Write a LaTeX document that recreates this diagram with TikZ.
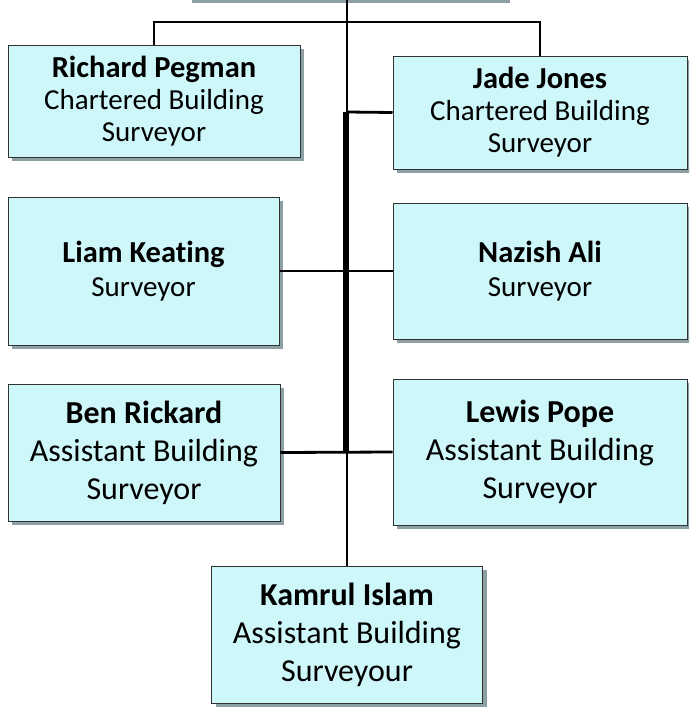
\documentclass[tikz,border=0pt]{standalone}
\usepackage{fontspec}
\setmainfont{Carlito}[Ligatures=NoCommon]
\usetikzlibrary{shadows}
\definecolor{boxfill}{RGB}{206,247,250}
\definecolor{boxshadow}{RGB}{141,160,166}
\definecolor{boxline}{RGB}{50,50,50}
\newcommand{\nmA}[1]{{\fontsize{30.5}{32}\selectfont\bfseries #1}}
\tikzset{
  person/.style={draw=boxline, line width=1pt, fill=boxfill, rectangle, inner sep=0pt, align=center,
    drop shadow={shadow xshift=4pt, shadow yshift=-4pt, fill=boxshadow, opacity=1}},
  fsA/.style={font=\fontsize{29}{32}\selectfont},
  fsB/.style={font=\fontsize{29}{34}\selectfont},
  fsC/.style={font=\fontsize{32}{38}\selectfont},
  link/.style={line width=2.8pt, draw=black},
  trunk/.style={line width=5.2pt, draw=black}
}
\begin{document}
\begin{tikzpicture}[x=1pt,y=-1pt]
\useasboundingbox (0,0) rectangle (689,707);
\begin{scope}
\clip (0,0) rectangle (689,707);
\node[person, minimum width=318pt, minimum height=59pt] (top) at (347,-30.5) {};
\node[person, fsA, minimum width=292pt, minimum height=112pt] (rp) at (154,101) {\nmA{Richard Pegman}\\Chartered Building\\Surveyor};
\node[person, fsA, minimum width=294pt, minimum height=113pt] (jj) at (540,112.5) {\nmA{Jade Jones}\\Chartered Building\\Surveyor};
\node[person, fsB, minimum width=271pt, minimum height=148pt] (lk) at (143.5,271) {\nmA{Liam Keating}\\Surveyor};
\node[person, fsB, minimum width=294pt, minimum height=136pt] (na) at (540,271) {\nmA{Nazish Ali}\\Surveyor};
\node[person, fsC, minimum width=272pt, minimum height=137pt] (br) at (144,452.5) {\textbf{Ben Rickard}\\Assistant Building\\Surveyor};
\node[person, fsC, minimum width=294pt, minimum height=146pt] (lp) at (540,452) {\textbf{Lewis Pope}\\Assistant Building\\Surveyor};
\node[person, fsC, minimum width=271pt, minimum height=137pt] (ki) at (347,634.5) {\textbf{Kamrul Islam}\\Assistant Building\\Surveyour};
\end{scope}
\coordinate (hb) at (347,22);
\coordinate (j1) at (347,112);
\coordinate (t1) at (346,112);
\coordinate (t3) at (346,452);
\coordinate (j3) at (347,452);
\draw[link] (rp.north) |- (hb) -| (jj.north);
\draw[link] (top.south) -- (j1);
\draw[link] (j1) -- (jj.west);
\draw[trunk] (t1) -- (t3);
\draw[link] (lk.east) -- (na.west);
\draw[link] (br.east) -- (lp.west);
\draw[link] (j3) -- (ki.north);
\end{tikzpicture}
\end{document}
